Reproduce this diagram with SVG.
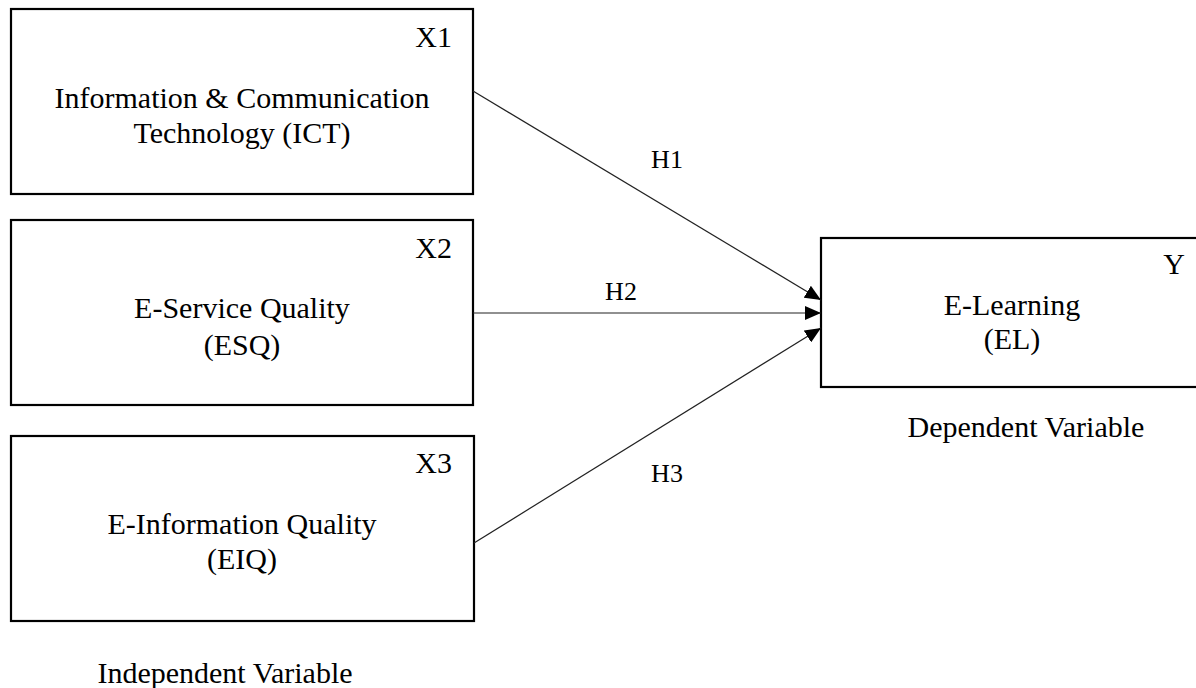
<svg xmlns="http://www.w3.org/2000/svg" width="1196" height="688" viewBox="0 0 1196 688">
<style>
.box{fill:#fff;stroke:#000;stroke-width:2.2}
.t{font-family:"Liberation Serif","Times New Roman",serif;font-size:30px;fill:#000;text-anchor:middle}
.r{text-anchor:end}
.h{font-size:26px}
.edge{stroke:#222;stroke-width:1.2;fill:none;marker-end:url(#ah)}
</style>
<defs>
<marker id="ah" markerUnits="userSpaceOnUse" markerWidth="18" markerHeight="14" refX="16" refY="7" orient="auto">
<path d="M0,0 L16,7 L0,14 Z" fill="#000"/>
</marker>
</defs>
<rect width="1196" height="688" fill="#fff"/>
<g id="x1">
<rect class="box" x="11" y="9" width="462" height="185"/>
<text class="t r" x="452" y="47">X1</text>
<text class="t" x="242" y="108">Information &amp; Communication</text>
<text class="t" x="242" y="143">Technology (ICT)</text>
</g>
<g id="x2">
<rect class="box" x="11" y="220" width="462" height="185"/>
<text class="t r" x="452" y="258">X2</text>
<text class="t" x="242" y="318">E-Service Quality</text>
<text class="t" x="242" y="355">(ESQ)</text>
</g>
<g id="x3">
<rect class="box" x="11" y="436" width="463" height="185"/>
<text class="t r" x="452" y="473">X3</text>
<text class="t" x="242" y="534">E-Information Quality</text>
<text class="t" x="242" y="569">(EIQ)</text>
</g>
<g id="y">
<rect class="box" x="821" y="238" width="390" height="149"/>
<text class="t r" x="1185" y="274">Y</text>
<text class="t" x="1012" y="315">E-Learning</text>
<text class="t" x="1012" y="349">(EL)</text>
</g>
<g id="labels">
<text class="t" x="225" y="683">Independent Variable</text>
<text class="t" x="1026" y="437">Dependent Variable</text>
</g>
<g id="connectors">
<line class="edge" x1="473" y1="91" x2="821" y2="300"/>
<line class="edge" x1="473" y1="313" x2="821" y2="313"/>
<line class="edge" x1="474" y1="543" x2="821" y2="328"/>
<text class="t h" x="667" y="168">H1</text>
<text class="t h" x="621" y="300">H2</text>
<text class="t h" x="667" y="482">H3</text>
</g>
</svg>
